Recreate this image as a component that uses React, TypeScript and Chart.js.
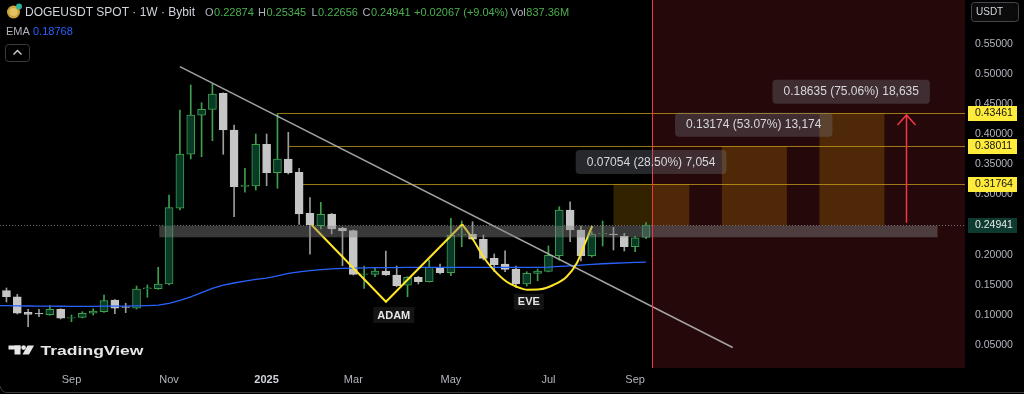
import React, { useEffect, useRef } from 'react';
import { Chart, registerables } from 'chart.js';

Chart.register(...registerables);

// ---- DATA ----------------------------------------------------------------
// Weekly candles DOGEUSDT (Bybit). Week index 0 = week of 2 Sep 2024.
const firstWeek = -7;
const opens = [
  0.1164, 0.1402, 0.1302, 0.1043, 0.1027, 0.1003, 0.1093, // -7..-1
  0.0944, 0.0960, 0.1027, 0.1053, 0.1248, 0.1136, 0.1110, 0.1435, 0.1435, 0.1513, // 0..9
  0.2771, 0.3668, 0.4316, 0.4415, 0.4681, 0.4071, 0.3136, 0.3141, 0.3834, 0.3362, // 10..19
  0.3590, 0.3369, 0.2688, 0.2482, 0.2671, 0.2439, 0.2399, 0.1674, 0.1674, 0.1729, // 20..29
  0.1663, 0.1492, 0.1625, 0.1552, 0.1791, 0.1701, 0.2327, 0.2339, 0.2256, 0.1940, // 30..39
  0.1846, 0.1762, 0.1513, 0.1691, 0.1724, 0.1983, 0.2743, 0.2410, 0.1983, 0.2344, // 40..49
  0.2344, 0.2311, 0.2133, 0.22874, // 50..53
];
const highs = [
  0.1440, 0.1447, 0.1342, 0.1093, 0.1093, 0.1153, 0.1103,
  0.0998, 0.1053, 0.1103, 0.1331, 0.1255, 0.1193, 0.1480, 0.1497, 0.1791, 0.2992,
  0.4404, 0.4819, 0.4525, 0.4836, 0.4690, 0.4155, 0.3435, 0.4005, 0.4005, 0.4346,
  0.4033, 0.3435, 0.2947, 0.2870, 0.2688, 0.2455, 0.2410, 0.1812, 0.1791, 0.2061,
  0.1812, 0.1635, 0.1640, 0.1912, 0.1846, 0.2604, 0.2560, 0.2548, 0.2327, 0.2012,
  0.2066, 0.1812, 0.1718, 0.1762, 0.2145, 0.2797, 0.2880, 0.2477, 0.2382, 0.2560,
  0.2455, 0.2355, 0.2299, 0.25345,
];
const lows = [
  0.1150, 0.1214, 0.1015, 0.0804, 0.0970, 0.0993, 0.0932,
  0.0887, 0.0949, 0.0998, 0.1043, 0.1020, 0.1037, 0.1098, 0.1292, 0.1425, 0.1497,
  0.2743, 0.3590, 0.3628, 0.3894, 0.3668, 0.2631, 0.3037, 0.3075, 0.3146, 0.3103,
  0.3340, 0.2505, 0.2007, 0.2427, 0.2344, 0.1817, 0.1663, 0.1442, 0.1635, 0.1655,
  0.1468, 0.1302, 0.1513, 0.1547, 0.1679, 0.1651, 0.2133, 0.2250, 0.1912, 0.1718,
  0.1718, 0.1458, 0.1480, 0.1568, 0.1715, 0.1912, 0.2216, 0.1895, 0.1962, 0.2145,
  0.2078, 0.2061, 0.2050, 0.22656,
];
const closes = [
  0.1414, 0.1302, 0.1027, 0.1010, 0.1015, 0.1093, 0.0944,
  0.0957, 0.1027, 0.1065, 0.1236, 0.1110, 0.1123, 0.1430, 0.1448, 0.1513, 0.2781,
  0.3673, 0.4321, 0.4415, 0.4669, 0.4071, 0.3130, 0.3152, 0.3834, 0.3362, 0.3590,
  0.3362, 0.2676, 0.2493, 0.2671, 0.2427, 0.2394, 0.1674, 0.1684, 0.1729, 0.1663,
  0.1485, 0.1625, 0.1552, 0.1791, 0.1701, 0.2327, 0.2340, 0.2256, 0.1940, 0.1834,
  0.1757, 0.1513, 0.1691, 0.1729, 0.1990, 0.2743, 0.2410, 0.1983, 0.2344, 0.2356,
  0.2332, 0.2133, 0.2282, 0.24941,
];
const emaValues = [
  0.1155, 0.1153, 0.1150, 0.1148, 0.1146, 0.1145, 0.1144,
  0.1143, 0.1143, 0.1143, 0.1145, 0.1146, 0.1146, 0.1150, 0.1155, 0.1162, 0.1190,
  0.1240, 0.1300, 0.1370, 0.1440, 0.1495, 0.1530, 0.1560, 0.1590, 0.1612, 0.1650,
  0.1690, 0.1715, 0.1735, 0.1752, 0.1764, 0.1772, 0.1777, 0.1780, 0.1784, 0.1786,
  0.1787, 0.1788, 0.1789, 0.1790, 0.1790, 0.1791, 0.1791, 0.1791, 0.1791, 0.1790,
  0.1789, 0.1789, 0.1790, 0.1791, 0.1795, 0.1805, 0.1815, 0.1826, 0.1838, 0.1850,
  0.1858, 0.1865, 0.1871, 0.18768,
];

const monthTickWeeks = [0, 9, 18, 26, 35, 44, 52];
const monthTickLabels = ['Sep', 'Nov', '2025', 'Mar', 'May', 'Jul', 'Sep'];
const priceTicks = [0.05, 0.1, 0.15, 0.2, 0.3, 0.35, 0.4, 0.45, 0.5, 0.55];

// drawings (week index, price)
const trendLine = [{ x: 10.0, y: 0.5123 }, { x: 61.0, y: 0.0458 }];
const adamPath = [{ x: 22.16, y: 0.2493 }, { x: 29.01, y: 0.1219 }, { x: 36.05, y: 0.2505 }];
const evePath = [
  { x: 36.05, y: 0.2505 }, { x: 37.07, y: 0.2244 }, { x: 37.99, y: 0.1967 },
  { x: 38.91, y: 0.1757 }, { x: 40.15, y: 0.1551 }, { x: 41.07, y: 0.1468 },
  { x: 42.08, y: 0.1419 }, { x: 43.22, y: 0.1425 }, { x: 44.45, y: 0.1497 },
  { x: 45.68, y: 0.1635 }, { x: 46.61, y: 0.1857 }, { x: 47.37, y: 0.2189 },
  { x: 48.04, y: 0.2477 },
];
const targetLevels = [0.31764, 0.38011, 0.43461];
const targetLabels = ['0.31764', '0.38011', '0.43461'];
const levelStartWeeks = [21, 20, 19];
const basePrice = 0.2483;
const projectionStartWeeks = [50, 60, 69];
const projectionEndWeeks = [57, 66, 75];
const projectionTexts = ['0.07054 (28.50%) 7,054', '0.13174 (53.07%) 13,174', '0.18635 (75.06%) 18,635'];
const projectionTextWeeks = [53.47, 62.94, 71.93];
const projectionTextPrices = [0.354, 0.416, 0.4708];
const zoneWeeks = [8.1, 79.9];
const zonePrices = [0.2289, 0.2482];
const currentPrice = 0.24941;
const currentPriceLabel = '0.24941';
const todayWeek = 53.6;
const arrowWeek = 77;
const arrowPrices = [0.2532, 0.4321];
const patternTexts = ['ADAM', 'EVE'];
const patternWeeks = [29.73, 42.19];
const patternPrices = [0.0998, 0.1219];

const headerTitle = 'DOGEUSDT SPOT · 1W · Bybit';
const ohlcKeys = ['O', 'H', 'L', 'C', '', 'Vol'];
const ohlcValues = ['0.22874', '0.25345', '0.22656', '0.24941', '+0.02067 (+9.04%)', '837.36M'];
const emaLabel = '0.18768';

const X_MIN = -6.596;
const X_MAX = 82.43;
const Y_MIN = 0.0118;
const Y_MAX = 0.6231;

const FONT = '"Liberation Sans", Arial, sans-serif';
const UP_FILL = '#093a27';
const UP_LINE = '#3f9f4d';
const DOWN_FILL = '#c6c6c6';
const DOWN_WICK = '#9c9c9c';

function rr(ctx: CanvasRenderingContext2D, x: number, y: number, w: number, h: number, r: number) {
  ctx.beginPath();
  ctx.moveTo(x + r, y);
  ctx.lineTo(x + w - r, y);
  ctx.arcTo(x + w, y, x + w, y + r, r);
  ctx.lineTo(x + w, y + h - r);
  ctx.arcTo(x + w, y + h, x + w - r, y + h, r);
  ctx.lineTo(x + r, y + h);
  ctx.arcTo(x, y + h, x, y + h - r, r);
  ctx.lineTo(x, y + r);
  ctx.arcTo(x, y, x + r, y, r);
  ctx.closePath();
}

const overlayPlugin = {
  id: 'tvOverlay',
  beforeDatasetsDraw(chart: any) {
    const { ctx, chartArea: a, scales } = chart;
    const xs = scales.x, ys = scales.y;
    ctx.save();
    ctx.beginPath();
    ctx.rect(a.left, a.top, a.right - a.left, a.bottom - a.top);
    ctx.clip();
    // future zone
    const xr = xs.getPixelForValue(todayWeek);
    ctx.fillStyle = 'rgba(242,54,69,0.15)';
    ctx.fillRect(xr, a.top, a.right - xr, a.bottom - a.top);
    // projection boxes
    ctx.fillStyle = 'rgba(255,168,0,0.2)';
    targetLevels.forEach((lv, k) => {
      const x0 = xs.getPixelForValue(projectionStartWeeks[k]);
      const x1 = xs.getPixelForValue(projectionEndWeeks[k]);
      const yt = ys.getPixelForValue(lv);
      const yb = ys.getPixelForValue(basePrice);
      ctx.fillRect(x0, yt, x1 - x0, yb - yt);
    });
    // target level lines
    ctx.strokeStyle = 'rgba(212,170,28,0.7)';
    ctx.lineWidth = 1;
    targetLevels.forEach((lv, k) => {
      const yy = Math.round(ys.getPixelForValue(lv)) + 0.5;
      ctx.beginPath();
      ctx.moveTo(xs.getPixelForValue(levelStartWeeks[k]), yy);
      ctx.lineTo(a.right, yy);
      ctx.stroke();
    });
    // current price dotted line
    const yc = Math.round(ys.getPixelForValue(currentPrice)) + 0.5;
    ctx.setLineDash([1, 2]);
    ctx.strokeStyle = 'rgba(130,130,130,0.8)';
    ctx.beginPath();
    ctx.moveTo(a.left, yc);
    ctx.lineTo(a.right, yc);
    ctx.stroke();
    ctx.restore();
  },
  afterDatasetsDraw(chart: any) {
    const { ctx, chartArea: a, scales } = chart;
    const xs = scales.x, ys = scales.y;
    ctx.save();
    ctx.beginPath();
    ctx.rect(a.left, a.top, a.right - a.left, a.bottom - a.top);
    ctx.clip();
    // support zone band
    const bx0 = xs.getPixelForValue(zoneWeeks[0]);
    const bx1 = xs.getPixelForValue(zoneWeeks[1]);
    const by0 = ys.getPixelForValue(zonePrices[1]);
    const by1 = ys.getPixelForValue(zonePrices[0]);
    ctx.fillStyle = 'rgba(130,130,130,0.44)';
    ctx.fillRect(bx0, by0, bx1 - bx0, by1 - by0);
    // today line
    const xr = Math.round(xs.getPixelForValue(todayWeek)) + 0.5;
    ctx.strokeStyle = '#f23645';
    ctx.lineWidth = 1;
    ctx.beginPath();
    ctx.moveTo(xr, a.top);
    ctx.lineTo(xr, a.bottom);
    ctx.stroke();
    // arrow
    const ax = Math.round(xs.getPixelForValue(arrowWeek)) + 0.5;
    const ay0 = ys.getPixelForValue(arrowPrices[0]);
    const ay1 = ys.getPixelForValue(arrowPrices[1]);
    ctx.lineWidth = 1.5;
    ctx.beginPath();
    ctx.moveTo(ax, ay0);
    ctx.lineTo(ax, ay1);
    ctx.moveTo(ax - 9, ay1 + 10);
    ctx.lineTo(ax, ay1);
    ctx.lineTo(ax + 9, ay1 + 10);
    ctx.stroke();
    // projection text labels
    ctx.font = `12px ${FONT}`;
    ctx.textBaseline = 'middle';
    ctx.textAlign = 'center';
    projectionTexts.forEach((t, k) => {
      const cx = xs.getPixelForValue(projectionTextWeeks[k]);
      const cy = ys.getPixelForValue(projectionTextPrices[k]);
      const w = ctx.measureText(t).width + 22;
      ctx.fillStyle = 'rgba(120,123,134,0.32)';
      rr(ctx, cx - w / 2, cy - 12, w, 24, 4);
      ctx.fill();
      ctx.fillStyle = '#d6d8de';
      ctx.fillText(t, cx, cy + 0.5);
    });
    // pattern labels
    ctx.font = `bold 11px ${FONT}`;
    patternTexts.forEach((t, k) => {
      const cx = xs.getPixelForValue(patternWeeks[k]);
      const cy = ys.getPixelForValue(patternPrices[k]);
      const w = ctx.measureText(t).width + 8;
      ctx.fillStyle = '#141414';
      ctx.fillRect(cx - w / 2, cy - 8, w, 16);
      ctx.fillStyle = '#e6e6e6';
      ctx.fillText(t, cx, cy + 0.5);
    });
    ctx.restore();
  },
  afterDraw(chart: any) {
    const { ctx, scales } = chart;
    const ys = scales.y;
    ctx.save();
    ctx.textBaseline = 'middle';
    ctx.textAlign = 'left';
    // price labels on axis
    ctx.font = `10.5px ${FONT}`;
    targetLevels.forEach((lv, k) => {
      const cy = ys.getPixelForValue(lv);
      ctx.fillStyle = '#ffeb3b';
      ctx.fillRect(968, Math.round(cy) - 7, 49, 15);
      ctx.fillStyle = '#131313';
      ctx.fillText(targetLabels[k], 975, Math.round(cy) + 0.5);
    });
    const cyp = ys.getPixelForValue(currentPrice);
    ctx.fillStyle = '#0d3b30';
    ctx.fillRect(968, Math.round(cyp) - 7, 49, 15);
    ctx.fillStyle = '#e8e8e8';
    ctx.fillText(currentPriceLabel, 975, Math.round(cyp) + 0.5);
    // USDT box
    ctx.fillStyle = '#0b0b0b';
    rr(ctx, 971.5, 2.5, 47, 19, 3);
    ctx.fill();
    ctx.strokeStyle = '#45474f';
    ctx.lineWidth = 1;
    ctx.stroke();
    ctx.fillStyle = '#d1d4dc';
    ctx.font = `10px ${FONT}`;
    ctx.fillText('USDT', 976, 12.5);

    // header: coin icon
    ctx.fillStyle = '#c8a43a';
    ctx.beginPath();
    ctx.arc(13.5, 12, 6.5, 0, Math.PI * 2);
    ctx.fill();
    ctx.fillStyle = '#e3c366';
    ctx.beginPath();
    ctx.arc(13.5, 12, 4, 0, Math.PI * 2);
    ctx.fill();
    ctx.fillStyle = '#2bb3a0';
    ctx.beginPath();
    ctx.arc(19, 6.5, 3, 0, Math.PI * 2);
    ctx.fill();
    // title
    ctx.fillStyle = '#d1d4dc';
    ctx.font = `12px ${FONT}`;
    ctx.fillText(headerTitle, 25, 12.5);
    // OHLC
    ctx.font = `11px ${FONT}`;
    const segX = [205, 258, 311.5, 362.5, 414, 510.5];
    ohlcKeys.forEach((k, i) => {
      let x = segX[i];
      if (k) {
        ctx.fillStyle = '#b2b5be';
        ctx.fillText(k, x, 12.5);
        x += ctx.measureText(k).width + 0.5;
      }
      ctx.fillStyle = '#4caf50';
      ctx.fillText(ohlcValues[i], x, 12.5);
    });
    // EMA row
    ctx.fillStyle = '#b2b5be';
    ctx.fillText('EMA', 6, 32);
    ctx.fillStyle = '#2962ff';
    ctx.fillText(emaLabel, 33, 32);
    // collapse button
    ctx.strokeStyle = '#3c3c3c';
    rr(ctx, 5.5, 44.5, 24, 17, 3);
    ctx.stroke();
    ctx.strokeStyle = '#d1d4dc';
    ctx.lineWidth = 1.3;
    ctx.beginPath();
    ctx.moveTo(13.5, 54.5);
    ctx.lineTo(17.5, 50.5);
    ctx.lineTo(21.5, 54.5);
    ctx.stroke();

    // TradingView logo
    ctx.fillStyle = '#e6e6e6';
    ctx.fillRect(8.5, 345.5, 12, 4);
    ctx.fillRect(14.5, 345.5, 6, 9);
    ctx.beginPath();
    ctx.arc(23.6, 347.6, 2.3, 0, Math.PI * 2);
    ctx.fill();
    ctx.beginPath();
    ctx.moveTo(27.5, 345.5);
    ctx.lineTo(34, 345.5);
    ctx.lineTo(29, 354.5);
    ctx.lineTo(22.5, 354.5);
    ctx.closePath();
    ctx.fill();
    ctx.font = `bold 13px ${FONT}`;
    ctx.textBaseline = 'alphabetic';
    const tw = ctx.measureText('TradingView').width;
    ctx.save();
    ctx.translate(40.5, 354.5);
    ctx.scale(103 / tw, 1);
    ctx.fillText('TradingView', 0, 0);
    ctx.restore();

    // bottom frame edge
    ctx.strokeStyle = '#3a3a3a';
    ctx.lineWidth = 1;
    ctx.beginPath();
    ctx.moveTo(0.5, 386);
    ctx.arcTo(0.5, 392.5, 7, 392.5, 6);
    ctx.lineTo(1024, 392.5);
    ctx.stroke();
    ctx.restore();
  },
};

export default function App() {
  const ref = useRef<HTMLCanvasElement>(null);
  useEffect(() => {
    document.body.style.margin = '0';
    document.body.style.background = '#000';
    const canvas = ref.current;
    if (!canvas) return;
    Chart.defaults.font.family = FONT;
    const weeks = opens.map((_, k) => firstWeek + k);
    const up = opens.map((o, k) => closes[k] >= o);
    const chart = new Chart(canvas, {
      type: 'bar',
      data: {
        datasets: [
          {
            type: 'line', label: 'EVE', data: evePath, borderColor: '#ffe626', borderWidth: 2,
            pointRadius: 0, cubicInterpolationMode: 'monotone', order: 0,
          } as any,
          {
            type: 'line', label: 'ADAM', data: adamPath, borderColor: '#ffe626', borderWidth: 2,
            pointRadius: 0, tension: 0, order: 0,
          } as any,
          {
            type: 'line', label: 'Trend', data: trendLine, borderColor: 'rgba(190,190,190,0.85)',
            borderWidth: 1.5, pointRadius: 0, order: 1,
          } as any,
          {
            type: 'line', label: 'EMA', data: weeks.map((w, k) => ({ x: w, y: emaValues[k] })),
            borderColor: '#2962ff', borderWidth: 1.3, pointRadius: 0, order: 2,
          } as any,
          {
            type: 'bar', label: 'Body', data: weeks.map((w, k) => ({ x: w, y: [opens[k], closes[k]] })),
            backgroundColor: up.map((u) => (u ? UP_FILL : DOWN_FILL)),
            borderColor: up.map((u) => (u ? UP_LINE : DOWN_FILL)),
            borderWidth: 1, borderSkipped: false, barThickness: 8, grouped: false, order: 3,
          } as any,
          {
            type: 'bar', label: 'Wick', data: weeks.map((w, k) => ({ x: w, y: [lows[k], highs[k]] })),
            backgroundColor: up.map((u) => (u ? UP_LINE : DOWN_WICK)),
            borderWidth: 0, barThickness: 1, grouped: false, order: 4,
          } as any,
        ],
      },
      options: {
        responsive: false,
        animation: false,
        events: [],
        layout: { padding: 0, autoPadding: false } as any,
        plugins: { legend: { display: false }, tooltip: { enabled: false } },
        scales: {
          x: {
            type: 'linear', position: 'bottom', min: X_MIN, max: X_MAX, offset: false,
            grid: { display: false, drawTicks: false, offset: false }, border: { display: false },
            afterBuildTicks: (s: any) => { s.ticks = monthTickWeeks.map((v) => ({ value: v })); },
            afterFit: (s: any) => { s.height = 26; s.paddingLeft = 0; s.paddingRight = 0; },
            ticks: {
              autoSkip: false, maxRotation: 0, padding: 5,
              color: (c: any) => (c.index === 2 ? '#d1d4dc' : '#b2b5be'),
              font: (c: any) => ({ size: 11, weight: c.index === 2 ? 'bold' : 'normal', family: FONT }),
              callback: (_v: any, idx: number) => monthTickLabels[idx],
            },
          } as any,
          y: {
            type: 'linear', position: 'right', min: Y_MIN, max: Y_MAX,
            grid: { display: false, drawTicks: false }, border: { display: false },
            afterBuildTicks: (s: any) => { s.ticks = priceTicks.map((v) => ({ value: v })); },
            afterFit: (s: any) => { s.width = 59; s.paddingTop = 0; s.paddingBottom = 0; },
            ticks: {
              padding: 10, color: '#b2b5be', font: { size: 10.5, family: FONT },
              callback: (v: any) => Number(v).toFixed(5),
            },
          } as any,
        },
      },
      plugins: [overlayPlugin],
    });
    return () => chart.destroy();
  }, []);
  return (
    <div style={{ width: 1024, height: 394, background: '#000' }}>
      <canvas ref={ref} width={1024} height={394} style={{ display: 'block', width: 1024, height: 394 }} />
    </div>
  );
}
